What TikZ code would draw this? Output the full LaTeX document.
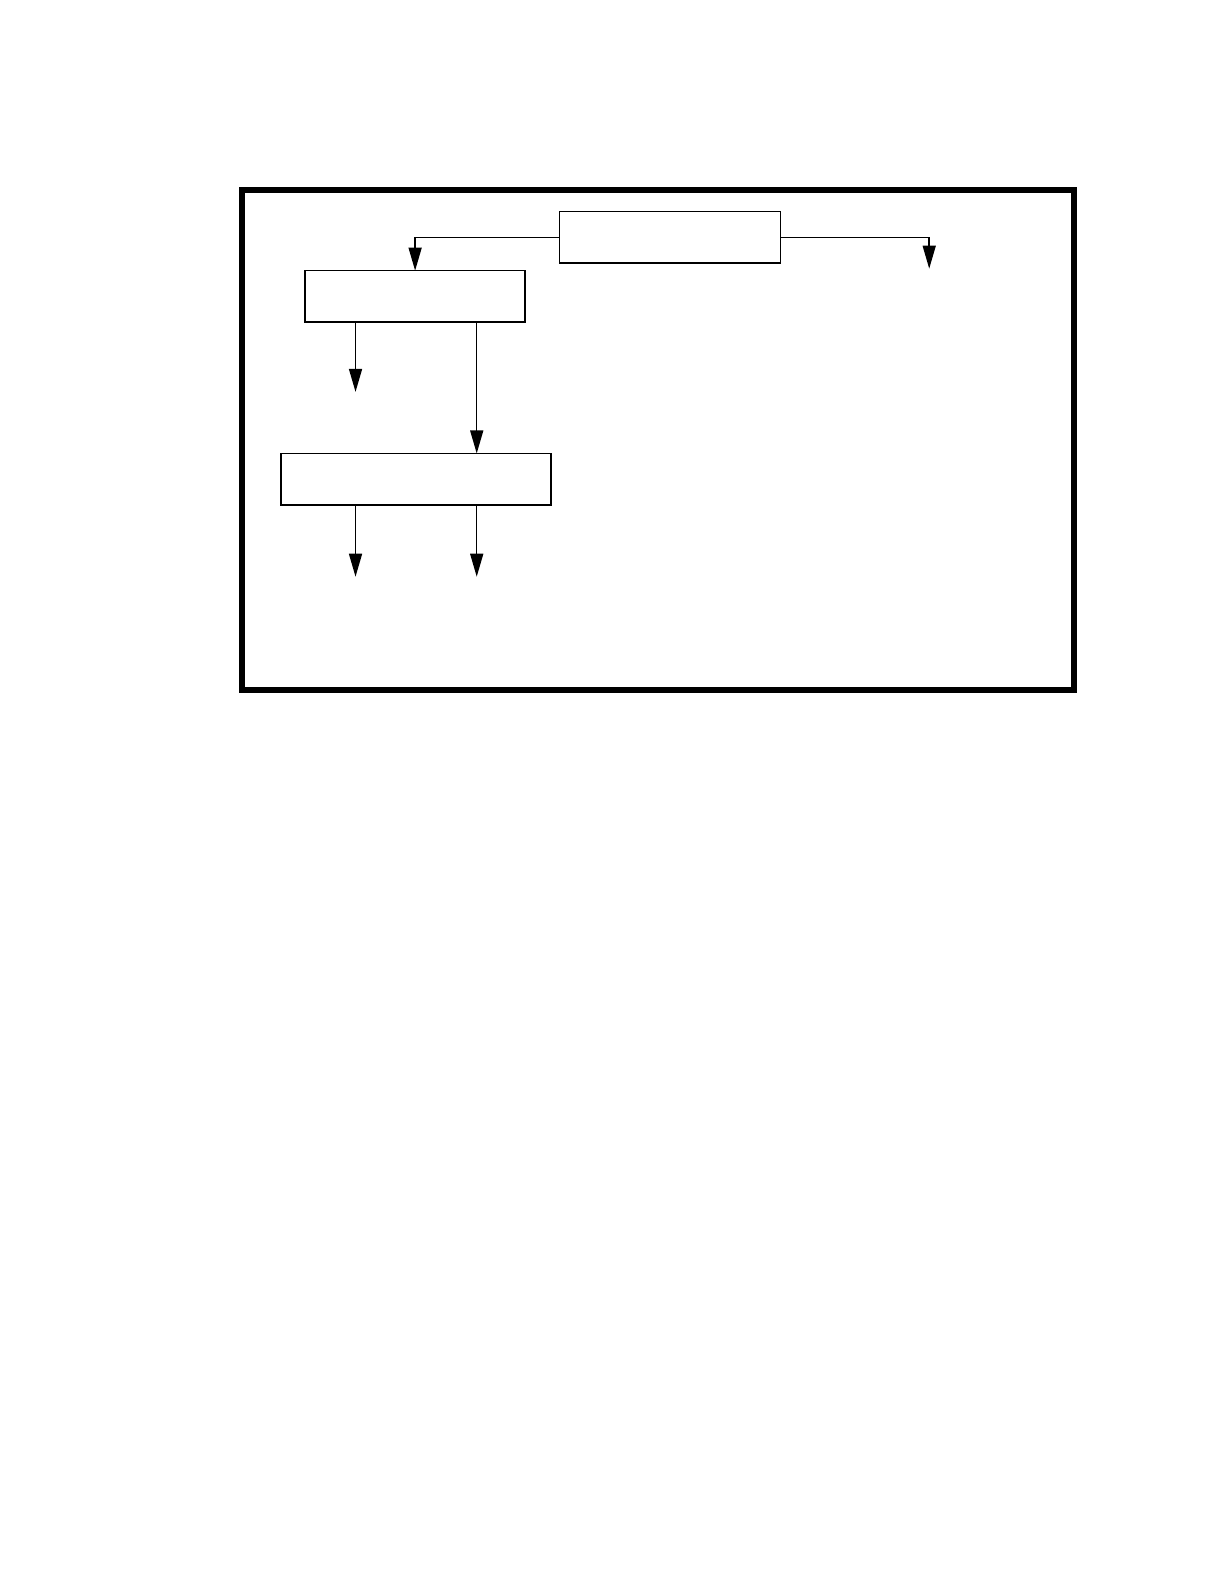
\documentclass[tikz,border=0pt]{standalone}
\usepackage{tikz}
\usetikzlibrary{arrows.meta, positioning}

\tikzset{
  block/.style={draw, line width=0.75bp, minimum height=25.8bp, outer sep=0pt, inner sep=0pt},
  flow/.style={line width=0.75bp, -{Triangle[length=11.5bp, width=6.5bp]}}
}

\begin{document}
\begin{tikzpicture}[x=0.505bp, y=-0.505bp]
\useasboundingbox (0bp,0bp) rectangle (612bp,-792bp);
% outer frame
\draw[line width=3bp] (240,188) rectangle (1063,683);

% boxes
\node[block, minimum width=110.5bp] (top) at (663.5,235) {};
\node[block, minimum width=110bp] (left) at (411,293.5) {};
\node[block, minimum width=135bp] (low) at (412,474.5) {};

% free ends
\coordinate (rightend) at (920,266);
\coordinate (leftout) at (352,388);
\coordinate (mid) at (472,0);
\coordinate (lowa) at (352,571);
\coordinate (lowb) at (472,571);

% connectors
\draw[flow] (top.west) -| (left.north);
\draw[flow] (top.east) -| (rightend);
\draw[flow] (left.south -| leftout) -- (leftout);
\draw[flow] (left.south -| mid) -- (low.north -| mid);
\draw[flow] (low.south -| lowa) -- (lowa);
\draw[flow] (low.south -| lowb) -- (lowb);
\end{tikzpicture}
\end{document}
